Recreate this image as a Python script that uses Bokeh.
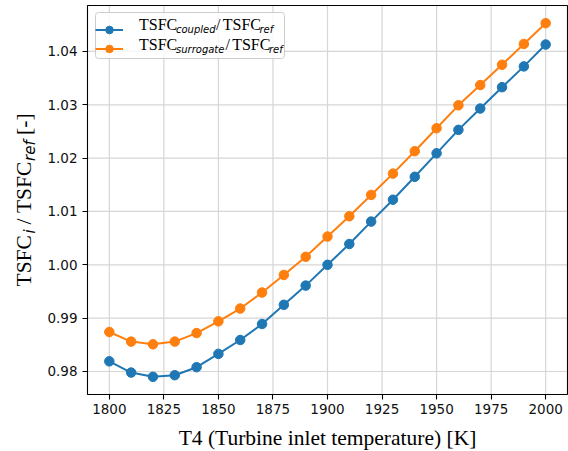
import math
from bokeh.plotting import figure
from bokeh.models import (Range1d, FixedTicker, PrintfTickFormatter, Legend,
                          LegendItem, Label, BoxAnnotation)
from bokeh.embed import file_html
from bokeh.resources import INLINE

# ---------------- data ----------------
t4 = [1800, 1810, 1820, 1830, 1840, 1850, 1860, 1870, 1880, 1890, 1900,
      1910, 1920, 1930, 1940, 1950, 1960, 1970, 1980, 1990, 2000]
tsfc_coupled = [0.9819, 0.9798, 0.9790, 0.9793, 0.9808, 0.9833, 0.9859,
                0.9889, 0.9925, 0.9961, 1.0000, 1.0039, 1.0081, 1.0122,
                1.0165, 1.0209, 1.0253, 1.0293, 1.0333, 1.0372, 1.0413]
tsfc_surrogate = [0.9874, 0.9856, 0.9851, 0.9856, 0.9872, 0.9894, 0.9918,
                  0.9948, 0.9981, 1.0015, 1.0053, 1.0091, 1.0131, 1.0171,
                  1.0213, 1.0256, 1.0299, 1.0337, 1.0375, 1.0414, 1.0453]
x_ticks = [1800, 1825, 1850, 1875, 1900, 1925, 1950, 1975, 2000]
y_ticks = [0.98, 0.99, 1.00, 1.01, 1.02, 1.03, 1.04]
x_label = "T4 (Turbine inlet temperature) [K]"

BLUE = "#1f77b4"
ORANGE = "#ff7f0e"
SERIF = "Liberation Serif"
SANS = "DejaVu Sans"
GRID = "#d6d6d6"

# axes box limits (matplotlib style 5% margins)
X0, X1 = 1790.0, 2010.0
ymin = min(tsfc_coupled + tsfc_surrogate)
ymax = max(tsfc_coupled + tsfc_surrogate)
pad = 0.05 * (ymax - ymin)
Y0, Y1 = ymin - pad, ymax + pad

# ---------------- geometry (figure pixels) ----------------
W, H = 568, 451
BOX_L, BOX_R, BOX_T, BOX_B = 87, 567, 5, 394     # axes box
kx = (X1 - X0) / (BOX_R - BOX_L)
ky = (Y1 - Y0) / (BOX_B - BOX_T)
RX0 = X0 - BOX_L * kx
RX1 = X1 + (W - BOX_R) * kx
RY1 = Y1 + BOX_T * ky
RY0 = Y0 - (H - BOX_B) * ky


def xd(px):
    return X0 + (px - BOX_L) * kx


def yd(py):
    return Y1 - (py - BOX_T) * ky


p = figure(width=W, height=H, output_backend="svg", toolbar_location=None,
           x_range=Range1d(RX0, RX1), y_range=Range1d(RY0, RY1),
           min_border_left=0, min_border_right=0,
           min_border_top=0, min_border_bottom=0)
p.background_fill_color = "white"
p.border_fill_color = "white"
p.outline_line_color = None
p.xgrid.visible = False
p.ygrid.visible = False

# grid lines, drawn from the tick lists inside the axes box
p.segment(x0=x_ticks, y0=[Y0] * len(x_ticks), x1=x_ticks,
          y1=[Y1] * len(x_ticks), line_color=GRID, line_width=1.2,
          level="underlay")
p.segment(x0=[X0] * len(y_ticks), y0=y_ticks, x1=[X1] * len(y_ticks),
          y1=y_ticks, line_color=GRID, line_width=1.2, level="underlay")

# axes pinned to the box edges
p.xaxis.fixed_location = Y0
p.yaxis.fixed_location = X0
p.xaxis.ticker = FixedTicker(ticks=x_ticks)
p.yaxis.ticker = FixedTicker(ticks=y_ticks)
p.yaxis.formatter = PrintfTickFormatter(format="%.2f")
for ax in (p.xaxis[0], p.yaxis[0]):
    ax.axis_line_color = None
    ax.major_tick_line_color = "black"
    ax.major_tick_line_width = 1.1
    ax.major_tick_out = 5
    ax.major_tick_in = 0
    ax.minor_tick_line_color = None
    ax.major_label_text_font = SANS
    ax.major_label_text_font_size = "13.5px"
    ax.major_label_text_color = "#111111"
p.xaxis.major_label_standoff = 4
p.yaxis.major_label_standoff = 5

l1 = p.line(t4, tsfc_coupled, line_color=BLUE, line_width=2)
c1 = p.scatter(t4, tsfc_coupled, size=9.5, fill_color=BLUE, line_color=BLUE)
l2 = p.line(t4, tsfc_surrogate, line_color=ORANGE, line_width=2)
c2 = p.scatter(t4, tsfc_surrogate, size=9.5, fill_color=ORANGE,
               line_color=ORANGE)

# axes box frame
p.add_layout(BoxAnnotation(left=X0, right=X1, bottom=Y0, top=Y1,
                           fill_alpha=0, line_color="black", line_alpha=1.0,
                           line_width=1.1, level="overlay"))

# legend: translucent rounded box behind, transparent legend on top
LG_P, LG_GH, LG_LW = 4, 19, 143
LG_L, LG_T = BOX_L + 8, BOX_T + 7
LG_W, LG_H = LG_P + 28 + 10 + LG_LW + LG_P, LG_P + 2 * LG_GH + LG_P
p.add_layout(BoxAnnotation(left=xd(LG_L), right=xd(LG_L + LG_W),
                           top=yd(LG_T), bottom=yd(LG_T + LG_H),
                           fill_color="white", fill_alpha=0.8,
                           line_color="#cccccc", line_alpha=1.0,
                           line_width=1, border_radius=3, level="underlay"))
legend = Legend(items=[LegendItem(label=" ", renderers=[l1, c1]),
                       LegendItem(label=" ", renderers=[l2, c2])],
                location=(LG_L, H - LG_T - LG_H), margin=0,
                padding=LG_P, spacing=0,
                glyph_width=28, glyph_height=LG_GH, label_standoff=10,
                label_width=LG_LW, label_height=LG_GH,
                border_line_color=None,
                background_fill_alpha=0.0, label_text_font_size="16px")
p.add_layout(legend, "center")

BASE_SHIFT = 0.35   # measured offset of the rendered baseline, in em


def piece(text, px, py, font, size, style="normal", angle=0.0,
          align="left"):
    """Place a text so that its baseline starts at page pixel (px, py)."""
    off = BASE_SHIFT * size
    if angle:
        px = px - off
    else:
        py = py - off
    p.add_layout(Label(x=xd(px), y=yd(py), text=text, text_font=font,
                       text_font_size=f"{size}px", text_font_style=style,
                       text_color="black", text_align=align,
                       text_baseline="alphabetic", angle=angle,
                       level="overlay"))


row1, row2 = 29.5, 49.5
for txt, px, py, fnt, sz, st in [
        ("TSFC", 138.5, row1, SERIF, 16, "normal"),
        ("coupled", 175.5, row1 + 3, SANS, 10, "italic"),
        ("/", 215.5, row1, SERIF, 16, "normal"),
        ("TSFC", 222.3, row1, SERIF, 16, "normal"),
        ("ref", 259, row1 + 3, SANS, 10, "italic"),
        ("TSFC", 138.5, row2, SERIF, 16, "normal"),
        ("surrogate", 175.5, row2 + 3, SANS, 10, "italic"),
        ("/", 225, row2, SERIF, 16, "normal"),
        ("TSFC", 231.7, row2, SERIF, 16, "normal"),
        ("ref", 268.5, row2 + 3, SANS, 10, "italic")]:
    piece(txt, px, py, fnt, sz, st)

# y-axis title, rotated, built from pieces
A = math.pi / 2
bx = 31
by0 = (BOX_T + BOX_B) / 2 + 86.5
piece("TSFC", bx, by0, SERIF, 21.5, angle=A)
piece("i", bx + 4, by0 - 53, SANS, 15, "italic", angle=A)
piece("/", bx, by0 - 62, SERIF, 21.5, angle=A)
piece("TSFC", bx, by0 - 73.4, SERIF, 21.5, angle=A)
piece("ref", bx + 4, by0 - 125.5, SANS, 15, "italic", angle=A)
piece("[-]", bx, by0 - 151.6, SERIF, 21.5, angle=A)

# x-axis title
piece(x_label, (BOX_L + BOX_R) / 2, 445.5, SERIF, 21.5, align="center")

open("out.html", "w").write(file_html(p, INLINE))
